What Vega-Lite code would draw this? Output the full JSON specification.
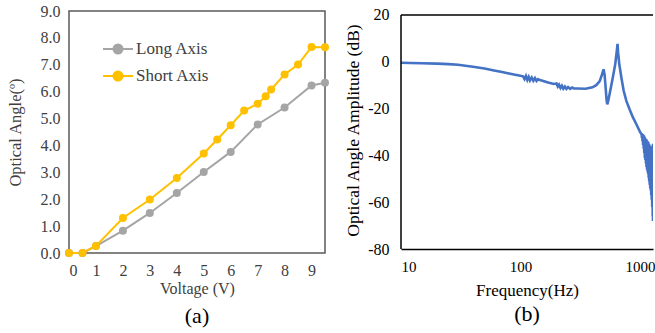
{
  "$schema": "https://vega.github.io/schema/vega-lite/v6.json",
  "padding": {"left": 6, "top": 2, "right": 0, "bottom": 0},
  "background": "white",
  "spacing": 14,
  "config": {
    "font": "Liberation Serif, serif",
    "axis": {"labelFont": "Liberation Serif, serif", "titleFont": "Liberation Serif, serif", "titleFontWeight": "normal", "grid": false, "ticks": false},
    "legend": {"labelFont": "Liberation Serif, serif"},
    "title": {"font": "Liberation Serif, serif", "fontWeight": "normal", "color": "#000000"}
  },
  "hconcat": [
    {
      "width": 256,
      "height": 242,
      "view": {"stroke": "#595959", "strokeWidth": 1.5},
      "title": {"text": "(a)", "orient": "bottom", "fontSize": 22, "offset": 10},
      "data": {"values": [
        {"v": 0, "angle": 0, "axis": "Long Axis"},
        {"v": 0.5, "angle": 0, "axis": "Long Axis"},
        {"v": 1, "angle": 0.26, "axis": "Long Axis"},
        {"v": 2, "angle": 0.83, "axis": "Long Axis"},
        {"v": 3, "angle": 1.49, "axis": "Long Axis"},
        {"v": 4, "angle": 2.23, "axis": "Long Axis"},
        {"v": 5, "angle": 3.01, "axis": "Long Axis"},
        {"v": 6, "angle": 3.76, "axis": "Long Axis"},
        {"v": 7, "angle": 4.78, "axis": "Long Axis"},
        {"v": 8, "angle": 5.41, "axis": "Long Axis"},
        {"v": 9, "angle": 6.23, "axis": "Long Axis"},
        {"v": 9.5, "angle": 6.33, "axis": "Long Axis"},
        {"v": 0, "angle": 0, "axis": "Short Axis"},
        {"v": 0.5, "angle": 0, "axis": "Short Axis"},
        {"v": 1, "angle": 0.26, "axis": "Short Axis"},
        {"v": 2, "angle": 1.3, "axis": "Short Axis"},
        {"v": 3, "angle": 1.99, "axis": "Short Axis"},
        {"v": 4, "angle": 2.79, "axis": "Short Axis"},
        {"v": 5, "angle": 3.7, "axis": "Short Axis"},
        {"v": 5.5, "angle": 4.22, "axis": "Short Axis"},
        {"v": 6, "angle": 4.75, "axis": "Short Axis"},
        {"v": 6.5, "angle": 5.3, "axis": "Short Axis"},
        {"v": 7, "angle": 5.55, "axis": "Short Axis"},
        {"v": 7.3, "angle": 5.83, "axis": "Short Axis"},
        {"v": 7.5, "angle": 6.08, "axis": "Short Axis"},
        {"v": 8, "angle": 6.64, "axis": "Short Axis"},
        {"v": 8.5, "angle": 7.01, "axis": "Short Axis"},
        {"v": 9, "angle": 7.66, "axis": "Short Axis"},
        {"v": 9.5, "angle": 7.65, "axis": "Short Axis"}
      ]},
      "mark": {"type": "line", "strokeWidth": 2, "point": {"filled": true, "size": 64, "opacity": 1}},
      "encoding": {
        "x": {"field": "v", "type": "quantitative",
          "scale": {"domain": [0, 9.5], "nice": false, "zero": false},
          "axis": {"values": [0, 1, 2, 3, 4, 5, 6, 7, 8, 9], "title": "Voltage (V)", "domain": false,
            "labelFont": "Liberation Serif, serif", "titleFont": "Liberation Serif, serif",
            "labelFontSize": 16, "labelColor": "#404040", "labelPadding": 9,
            "titleFontSize": 16, "titleColor": "#404040", "titlePadding": 2}},
        "y": {"field": "angle", "type": "quantitative",
          "scale": {"domain": [0, 9], "nice": false},
          "axis": {"values": [0, 1, 2, 3, 4, 5, 6, 7, 8, 9], "format": ".1f", "title": "Optical Angle(º)", "domain": false,
            "labelFont": "Liberation Serif, serif", "titleFont": "Liberation Serif, serif",
            "labelFontSize": 16, "labelColor": "#404040", "labelPadding": 9,
            "titleFontSize": 16.5, "titleColor": "#404040", "titlePadding": 17}},
        "color": {"field": "axis", "type": "nominal",
          "scale": {"domain": ["Long Axis", "Short Axis"], "range": ["#A5A5A5", "#FFC000"]},
          "legend": {"orient": "none", "legendX": 33, "legendY": 22, "title": null, "padding": 0,
            "symbolType": "M-1,0L1,0M-0.3,0A0.3,0.3,0,1,0,0.3,0A0.3,0.3,0,1,0,-0.3,0Z",
            "symbolSize": 900, "symbolStrokeWidth": 2,
            "labelFont": "Liberation Serif, serif", "labelFontSize": 17, "labelColor": "#404040", "labelOffset": 2, "rowPadding": 2,
            "encode": {"symbols": {"update": {"fill": {"scale": "color", "field": "value"}, "opacity": {"value": 1}}}}}}
      }
    },
    {
      "width": 252,
      "height": 238,
      "view": {"stroke": null},
      "title": {"text": "(b)", "orient": "bottom", "fontSize": 22, "offset": 6},
      "layer": [
        {
          "data": {"values": [
            {"f": 10, "db": -0.4}, {"f": 12, "db": -0.5}, {"f": 15, "db": -0.6}, {"f": 20, "db": -0.8},
            {"f": 25, "db": -1.0}, {"f": 30, "db": -1.3}, {"f": 40, "db": -2.1}, {"f": 50, "db": -2.9},
            {"f": 60, "db": -3.7}, {"f": 70, "db": -4.4}, {"f": 80, "db": -5.0}, {"f": 90, "db": -5.5},
            {"f": 100, "db": -6.0}, {"f": 105, "db": -6.2}, {"f": 108, "db": -7.4}, {"f": 111, "db": -6.1},
            {"f": 114, "db": -7.8}, {"f": 117, "db": -6.5}, {"f": 120, "db": -8.0}, {"f": 124, "db": -6.7},
            {"f": 128, "db": -8.1}, {"f": 132, "db": -7.0}, {"f": 136, "db": -8.2}, {"f": 140, "db": -7.4},
            {"f": 145, "db": -7.8}, {"f": 150, "db": -8.0}, {"f": 170, "db": -8.9}, {"f": 190, "db": -9.5},
            {"f": 200, "db": -9.3}, {"f": 205, "db": -10.6}, {"f": 210, "db": -9.8}, {"f": 216, "db": -11.2},
            {"f": 222, "db": -10.2}, {"f": 228, "db": -11.5}, {"f": 235, "db": -10.6}, {"f": 242, "db": -11.6},
            {"f": 250, "db": -10.8}, {"f": 260, "db": -11.6}, {"f": 270, "db": -11.0}, {"f": 280, "db": -11.4},
            {"f": 300, "db": -11.4}, {"f": 350, "db": -11.5}, {"f": 400, "db": -10.9}, {"f": 430, "db": -10.0},
            {"f": 460, "db": -8.3}, {"f": 480, "db": -5.5}, {"f": 495, "db": -3.2}, {"f": 505, "db": -5.5},
            {"f": 515, "db": -11}, {"f": 525, "db": -16.5}, {"f": 532, "db": -18.2}, {"f": 540, "db": -17},
            {"f": 560, "db": -13}, {"f": 590, "db": -7}, {"f": 620, "db": -1}, {"f": 640, "db": 5},
            {"f": 648, "db": 7.7}, {"f": 655, "db": 4}, {"f": 670, "db": -1}, {"f": 698, "db": -6.8},
            {"f": 730, "db": -12.5}, {"f": 769, "db": -16.8}, {"f": 820, "db": -20.5}, {"f": 874, "db": -23.9},
            {"f": 903, "db": -25.3}, {"f": 962, "db": -28.2}, {"f": 1000, "db": -30}, {"f": 1026, "db": -31},
            {"f": 1030, "db": -30.5}, {"f": 1036, "db": -32.5}, {"f": 1042, "db": -30.8}, {"f": 1048, "db": -34},
            {"f": 1054, "db": -31}, {"f": 1060, "db": -35.5}, {"f": 1066, "db": -31.2}, {"f": 1072, "db": -37},
            {"f": 1078, "db": -31.5}, {"f": 1084, "db": -39}, {"f": 1090, "db": -32}, {"f": 1096, "db": -41},
            {"f": 1102, "db": -32.5}, {"f": 1108, "db": -42}, {"f": 1114, "db": -33}, {"f": 1120, "db": -43.5},
            {"f": 1126, "db": -33}, {"f": 1132, "db": -45}, {"f": 1138, "db": -33.5}, {"f": 1144, "db": -46},
            {"f": 1150, "db": -34}, {"f": 1156, "db": -47}, {"f": 1162, "db": -34}, {"f": 1168, "db": -48},
            {"f": 1174, "db": -34.5}, {"f": 1180, "db": -49.5}, {"f": 1186, "db": -35}, {"f": 1192, "db": -51},
            {"f": 1198, "db": -35.5}, {"f": 1204, "db": -52.5}, {"f": 1210, "db": -36}, {"f": 1216, "db": -54},
            {"f": 1222, "db": -37}, {"f": 1228, "db": -55}, {"f": 1234, "db": -37.5}, {"f": 1240, "db": -57},
            {"f": 1246, "db": -37}, {"f": 1252, "db": -59}, {"f": 1258, "db": -36.5}, {"f": 1264, "db": -62},
            {"f": 1270, "db": -36}, {"f": 1276, "db": -66}, {"f": 1282, "db": -35}, {"f": 1283, "db": -68}
          ]},
          "mark": {"type": "line", "color": "#4472C4", "strokeWidth": 2.6, "clip": true},
          "encoding": {
            "x": {"field": "f", "type": "quantitative",
              "scale": {"type": "log", "domain": [10, 1283], "nice": false},
              "axis": {"values": [10, 100, 1000], "labelExpr": "'' + datum.value", "title": "Frequency(Hz)",
                "labelFont": "Liberation Serif, serif", "titleFont": "Liberation Serif, serif",
                "domainColor": "#000000", "domainWidth": 1.5,
                "labelFontSize": 15, "labelColor": "#000000", "labelPadding": 10,
                "titleFontSize": 17, "titleColor": "#000000", "titlePadding": 8,
                "encode": {"labels": {"update": {"dx": {"signal": "datum.value === 1000 ? -3 : 0"}}}}}},
            "y": {"field": "db", "type": "quantitative",
              "scale": {"domain": [-80, 21.7], "nice": false},
              "axis": {"values": [-80, -70, -60, -50, -40, -30, -20, -10, 0, 10, 20], "labelExpr": "'' + datum.value",
                "labelFont": "Liberation Serif, serif", "titleFont": "Liberation Serif, serif",
                "title": "Optical Angle Amplitude (dB)", "domain": false,
                "labelFontSize": 16, "labelColor": "#000000", "labelPadding": 12,
                "titleFontSize": 17.5, "titleColor": "#000000", "titlePadding": 5}}
          }
        },
        {
          "data": {"values": [{"f0": 10, "f1": 1283, "top": 20, "bottom": -80}]},
          "mark": {"type": "rule", "color": "#000000", "strokeWidth": 1.5},
          "encoding": {
            "x": {"field": "f0", "type": "quantitative"},
            "x2": {"field": "f1"},
            "y": {"field": "top", "type": "quantitative"}
          }
        },
        {
          "data": {"values": [{"f0": 10, "top": 20, "bottom": -80}]},
          "mark": {"type": "rule", "color": "#000000", "strokeWidth": 1.5},
          "encoding": {
            "x": {"field": "f0", "type": "quantitative"},
            "y": {"field": "bottom", "type": "quantitative"},
            "y2": {"field": "top"}
          }
        }
      ]
    }
  ]
}
